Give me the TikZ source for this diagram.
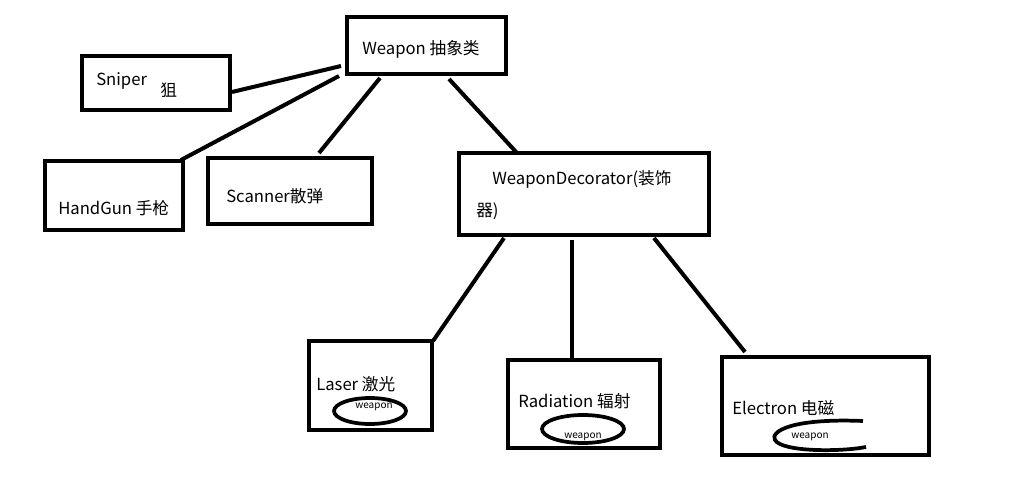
\documentclass[tikz,border=0pt]{standalone}
\usepackage{fontspec}
\setmainfont{Noto Sans CJK SC}
\begin{document}
\begin{tikzpicture}[x=0.75pt,y=-0.75pt,
  box/.style={draw,line width=3pt,inner sep=0pt},
  link/.style={line width=3pt},
  lbl/.style={anchor=west,inner sep=0pt,font=\fontsize{12.5}{14}\selectfont},
  small/.style={inner sep=0pt,font=\fontsize{7.5}{8}\selectfont},
  oval/.style={line width=2.8pt}]
\useasboundingbox (0,0) rectangle (1010,499);
\fill[white] (0,0) rectangle (1010,499);
% boxes
\draw[box] (347,17) rectangle (506,74);
\node (weapon) at (426.5,45.5) {};
\draw[box] (82,56) rectangle (230,110);
\node (sniper) at (156,83) {};
\draw[box] (45,161) rectangle (183,230);
\node (handgun) at (114,195) {};
\draw[box] (208,158) rectangle (372,224);
\node (scanner) at (290,191) {};
\draw[box] (459,153) rectangle (709,235);
\node (deco) at (584,194) {};
\draw[box] (309,341) rectangle (432,430);
\node (laser) at (370,385) {};
\draw[box] (508,360) rectangle (660,448);
\node (rad) at (584,404) {};
\draw[box] (722,357) rectangle (929,455);
\node (elec) at (825,406) {};
% connector end points
\coordinate (w1) at (341,66);
\coordinate (w2) at (339,76);
\coordinate (w3) at (380,78);
\coordinate (w4) at (449,79);
\coordinate (s1) at (232,92);
\coordinate (h1) at (181,160);
\coordinate (c1) at (319,153);
\coordinate (d0) at (517,153);
\coordinate (d1) at (504,238);
\coordinate (d2) at (572,240);
\coordinate (d3) at (654,238);
\coordinate (l1) at (433,341);
\coordinate (r1) at (572,360);
\coordinate (e1) at (745,352);
\draw[link] (s1) -- (w1);
\draw[link] (h1) -- (w2);
\draw[link] (c1) -- (w3);
\draw[link] (d0) -- (w4);
\draw[link] (l1) -- (d1);
\draw[link] (r1) -- (d2);
\draw[link] (e1) -- (d3);
% labels
\node[lbl] (tw) at (362,49) {Weapon 抽象类};
\node[lbl] (ts) at (96,81) {Sniper};
\node[lbl] (ts2) at (160,90) {狙};
\node[lbl] (th) at (58,208) {HandGun 手枪};
\node[lbl] (tc) at (226,196) {Scanner散弹};
\node[lbl] (td) at (492,179) {WeaponDecorator(装饰};
\node[lbl] (td2) at (476,211) {器)};
\node[lbl] (tl) at (316,384) {Laser 激光};
\node[lbl] (tr) at (518,401) {Radiation 辐射};
\node[lbl] (te) at (732,408) {Electron 电磁};
% inner weapon ellipses
\draw[oval] (370,411) ellipse [x radius=36, y radius=13];
\node[small] (lw) at (374,407) {weapon};
\draw[oval] (583,429) ellipse [x radius=41, y radius=14];
\node[small] (rw) at (583,437) {weapon};
\draw[oval] (863,421) .. controls (790,418) and (770,432) .. (775,440)
   .. controls (782,452) and (840,452) .. (866,447);
\node[small] (ew) at (810,437) {weapon};
\end{tikzpicture}
\end{document}
